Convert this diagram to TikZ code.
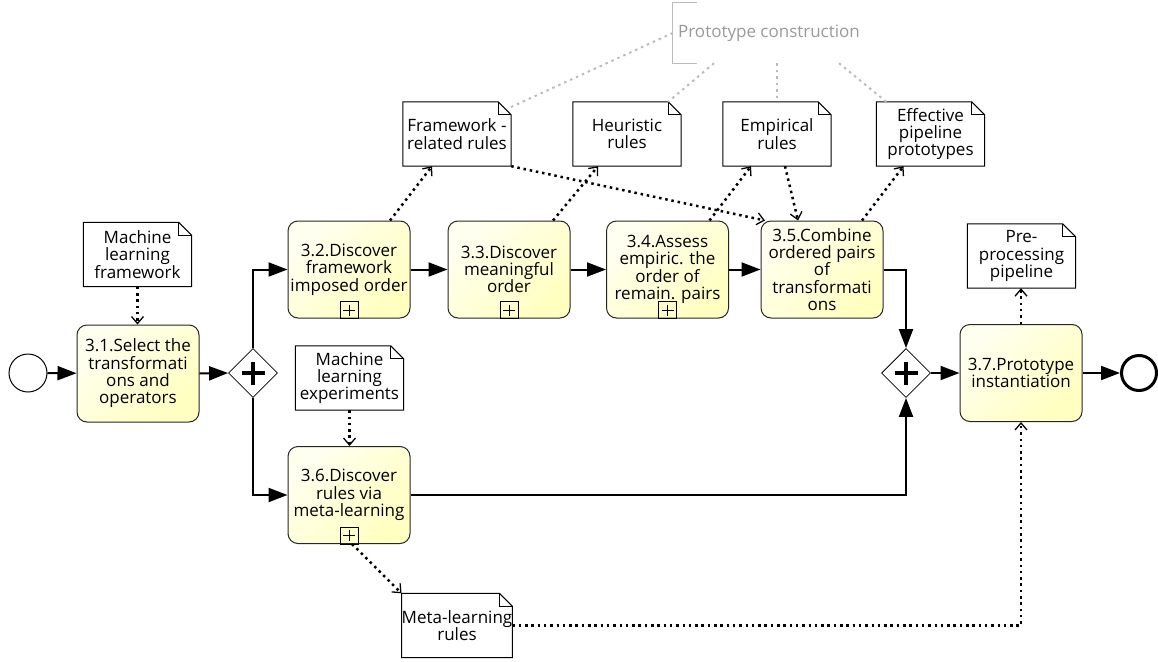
\documentclass[tikz,border=0pt]{standalone}
\usepackage{fontspec}
\setmainfont{Open Sans}
\usetikzlibrary{arrows.meta,shapes.geometric}
\definecolor{tasklight}{HTML}{FFFFF0}
\definecolor{taskdark}{HTML}{FFFFC0}
\definecolor{notegray}{HTML}{BBBBBB}
\definecolor{notetext}{HTML}{999999}

\begin{document}
\begin{tikzpicture}[x=1pt, y=-1pt,
  font=\fontsize{17}{17.3}\selectfont,
  task/.style={draw=black!85, line width=1pt, rounded corners=10pt,
    top color=tasklight, bottom color=taskdark, shading angle=45,
    minimum width=122pt, minimum height=97pt, align=center, inner sep=0pt},
  dataobj/.style={minimum width=108pt, minimum height=64pt, align=center, inner sep=0pt},
  gate/.style={diamond, draw, line width=0.8pt, fill=white, aspect=1,
    minimum width=49pt, minimum height=49pt, inner sep=0pt},
  event/.style={circle, draw, fill=white, inner sep=0pt},
  seq/.style={line width=2pt, -{Triangle[length=19pt,width=14pt]}},
  assoc/.style={line width=2.5pt, dash pattern=on 2.5pt off 3.8pt,
    -{Straight Barb[length=7pt,width=12pt,line width=1.3pt]}},
  noteline/.style={notegray, line width=2pt, dash pattern=on 2.5pt off 4pt}]
  \useasboundingbox (0,0) rectangle (1158,661);
  % events and gateways
  \node[event, minimum size=38pt, line width=1pt] (start) at (28,373) {};
  \node[event, minimum size=35pt, line width=3pt] (end) at (1139,373) {};
  \node[gate] (gw1) at (253,373) {};
  \node[gate] (gw2) at (906,373) {};
  \foreach \g in {gw1,gw2}
    \draw[line width=3.5pt] ([yshift=-11.5pt]\g.center) -- ([yshift=11.5pt]\g.center)
      ([xshift=-11.5pt]\g.center) -- ([xshift=11.5pt]\g.center);
  % tasks
  \node[task] (t31) at (138,373.5) {3.1.Select the\\transformati\\ons and\\operators};
  \node[task] (t32) at (349,269.5) {3.2.Discover\\framework\\imposed order};
  \node[task] (t33) at (509,269.5) {3.3.Discover\\meaningful\\order};
  \node[task] (t34) at (667.5,269.5) {3.4.Assess\\empiric. the\\order of\\remain. pairs};
  \node[task] (t35) at (822,269.5) {3.5.Combine\\ordered pairs\\of\\transformati\\ons};
  \node[task] (t36) at (349,495) {3.6.Discover\\rules via\\meta-learning};
  \node[task] (t37) at (1021,373) {3.7.Prototype\\instantiation};
  % sub-process markers
  \foreach \t in {t32,t33,t34,t36} {
    \draw[line width=0.9pt] ([xshift=-9pt]\t.south) rectangle ([xshift=9pt,yshift=17pt]\t.south);
    \draw[line width=0.9pt] ([yshift=3pt]\t.south) -- ([yshift=14pt]\t.south)
      ([xshift=-6pt,yshift=8.5pt]\t.south) -- ([xshift=6pt,yshift=8.5pt]\t.south);
  }
  % data objects
  \node[dataobj] (mlf) at (137.5,254.5) {Machine\\learning\\framework};
  \node[dataobj] (fr) at (457,134) {Framework -\\related rules};
  \node[dataobj] (heur) at (627,134) {Heuristic\\rules};
  \node[dataobj] (emp) at (777,134) {Empirical\\rules};
  \node[dataobj] (eff) at (930.5,134) {Effective\\pipeline\\prototypes};
  \node[dataobj] (pre) at (1021.5,256) {Pre-\\processing\\pipeline};
  \node[dataobj] (mle) at (349.5,378) {Machine\\learning\\experiments};
  \node[dataobj] (mlr) at (457,625.5) {Meta-learning\\rules};
  \foreach \d in {mlf,fr,heur,emp,eff,pre,mle,mlr} {
    \draw[line width=1pt] (\d.south west) -- (\d.north west) -- ([xshift=-13pt]\d.north east)
      -- ([yshift=-13pt]\d.north east) -- (\d.south east) -- cycle;
    \draw[line width=1pt] ([xshift=-13pt]\d.north east) |- ([yshift=-13pt]\d.north east);
  }
  % text annotation
  \node[minimum width=192pt, minimum height=60pt, inner sep=0pt, text=notetext] (ann) at (769,33) {Prototype construction};
  \draw[notegray, line width=1.3pt] ([xshift=24pt]ann.north west) -- (ann.north west)
    -- (ann.south west) -- ([xshift=24pt]ann.south west);
  \draw[noteline] (ann.west) -- ([xshift=-4pt,yshift=-7pt]fr.north east);
  \draw[noteline] ([xshift=-55pt]ann.south) -- ([xshift=-13pt]heur.north east);
  \draw[noteline] ([xshift=8pt]ann.south) -- (emp.north);
  \draw[noteline] ([xshift=70pt]ann.south) -- ([xshift=10pt]eff.north west);
  % sequence flows
  \draw[seq] (start) -- (t31);
  \draw[seq] (t31.east) -- (gw1.west);
  \draw[seq] (gw1.north) |- (t32.west);
  \draw[seq] (gw1.south) |- (t36.west);
  \draw[seq] (t32.east) -- (t33.west);
  \draw[seq] (t33.east) -- (t34.west);
  \draw[seq] (t34.east) -- (t35.west);
  \draw[seq] (t35.east) -| (gw2.north);
  \draw[seq] (t36.east) -| (gw2.south);
  \draw[seq] (gw2.east) -- (t37.west);
  \draw[seq] (t37.east) -- (end.west);
  % data associations
  \draw[assoc] (mlf.south) -- (mlf.south |- t31.north);
  \draw[assoc] ([xshift=41pt]t32.north) -- ([xshift=-25pt]fr.south);
  \draw[assoc] ([xshift=44pt]t33.north) -- ([xshift=-29pt]heur.south);
  \draw[assoc] (fr.south east) -- ([xshift=-57pt]t35.north);
  \draw[assoc] ([xshift=42pt]t34.north) -- ([xshift=-26pt]emp.south);
  \draw[assoc] ([xshift=8pt]emp.south) -- ([xshift=-24pt]t35.north);
  \draw[assoc] ([xshift=40pt]t35.north) -- ([xshift=-27pt]eff.south);
  \draw[assoc] (t37.north) -- (t37.north |- pre.south);
  \draw[assoc] (mle.south) -- (mle.south |- t36.north);
  \draw[assoc] ([xshift=3pt]t36.south) -- (mlr.north west);
  \draw[assoc] (mlr.east) -| (t37.south);
\end{tikzpicture}
\end{document}
